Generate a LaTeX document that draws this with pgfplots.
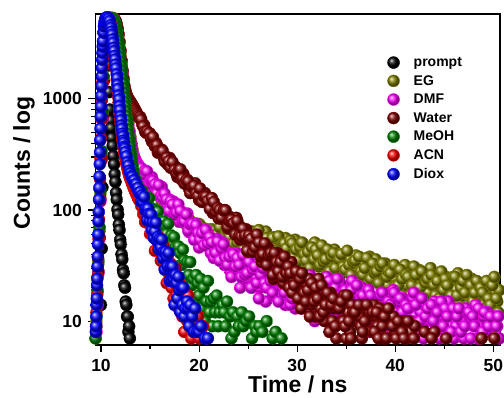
\documentclass[border=0pt]{standalone}
\usepackage{pgfplots}
\pgfplotsset{compat=1.18}
\usepackage{fontspec}
\setmainfont{Liberation Sans}
\usetikzlibrary{plotmarks}
\definecolor{cEG}{RGB}{128,128,0}
\definecolor{cDMF}{RGB}{255,0,255}
\definecolor{cWater}{RGB}{128,0,0}
\definecolor{cMeOH}{RGB}{0,128,0}
\definecolor{cACN}{RGB}{255,0,0}
\definecolor{cDiox}{RGB}{0,0,255}
\pgfplotsset{ballstyle/.style={only marks, mark=ball, mark size=6pt, color=#1, mark options={ball color=#1}}}
\newcommand{\tl}{\fontsize{17.5}{19}\selectfont\bfseries}
\begin{document}
\begin{tikzpicture}
\useasboundingbox (-95.5pt,-52pt) rectangle (408.5pt,345pt);
\begin{axis}[
  at={(0pt,0pt)}, anchor=south west,
  width=404.5pt, height=331pt, scale only axis,
  xmin=9.44, xmax=50.68, ymode=log, ymin=6.1, ymax=5800,
  xtick={10,20,30,40,50}, minor x tick num=1,
  ytick={10,100,1000},
  xticklabels={}, yticklabels={},
  tick align=outside, tick pos=left,
  major tick length=7pt, minor tick length=4pt,
  every tick/.style={black, line width=1.1pt},
  axis line style={line width=1.3pt},
  xlabel={Time / ns}, ylabel={Counts / log},
  label style={font=\fontsize{23}{26}\selectfont\bfseries},
  xlabel style={at={(axis description cs:0.5,0)}, anchor=base, yshift=-48pt, inner sep=0pt, text height=16.5pt, text depth=4pt},
  ylabel style={at={(axis description cs:-0.177,0.55)}, anchor=center},
  legend style={draw=none, fill=none, at={(rel axis cs:0.7136,0.882)}, anchor=north west,
    font=\fontsize{14}{14}\selectfont\bfseries, row sep=3.4pt},
  legend cell align=left,
]
\coordinate (xa) at (axis cs:10,6.1);
\coordinate (xb) at (axis cs:20,6.1);
\coordinate (xc) at (axis cs:30,6.1);
\coordinate (xd) at (axis cs:40,6.1);
\coordinate (xe) at (axis cs:50,6.1);
\coordinate (ya) at (axis cs:9.44,10);
\coordinate (yb) at (axis cs:9.44,100);
\coordinate (yc) at (axis cs:9.44,1000);
% prompt
\addplot[ballstyle=black] coordinates {(10.00,14)(10.07,45)(10.14,160)(10.21,480)(10.28,1150)(10.35,2100)(10.42,3100)(10.49,3900)(10.56,4300)(10.63,4100)(10.70,3200)(10.77,2000)(10.84,1150)(10.91,800)(10.98,640)(11.05,545)(11.12,445)(11.19,378)(11.26,305)(11.33,258)(11.40,210)(11.47,179)(11.54,143)(11.61,124)(11.68,101)(11.75,91)(11.82,74)(11.89,66)(11.96,54)(12.03,49)(12.10,40)(12.17,36)(12.24,29)(12.31,27)(12.38,21)(12.45,20)(12.52,15)(12.59,14)(12.66,11)(12.73,11)(12.80,8)(12.87,9)(12.94,7)(13.01,6)(13.08,6)(13.15,5)};
% EG
\addplot[ballstyle=cEG] coordinates {(9.45,7)(9.55,10)(9.65,18)(9.75,33)(9.85,65)(9.95,140)(10.05,320)(10.15,740)(10.25,1550)(10.35,2650)(10.45,3650)(10.55,4450)(10.65,4950)(10.75,5200)(10.85,5300)(10.95,5350)(11.05,5370)(11.15,5360)(11.25,5330)
(11.4,5100)(11.5,4800)(11.6,4380)(11.7,3900)(11.8,3380)(11.9,2900)(12.0,2450)(12.1,2050)(12.2,1720)(12.3,1450)(12.4,1200)(12.5,1000)(12.6,850)(12.7,720)(12.8,610)(12.9,520)(13.0,455)(13.1,400)(13.2,355)(13.3,320)(13.4,300)(13.5,282)(13.6,265)(13.7,251)(13.8,238)(13.9,231)
(14.0,231)(14.2,213)(14.4,216)(14.6,186)(14.8,181)(15.0,178)(15.2,158)(15.4,164)(15.6,146)(15.8,150)(16.0,135)(16.2,118)(16.4,126)(16.6,116)(16.8,119)(17.0,104)(17.2,105)(17.4,93)(17.6,101)(17.8,92)(18.0,97)(18.2,82)(18.4,81)(18.6,83)(18.8,71)(19.0,82)(19.2,72)(19.4,75)(19.6,65)(19.8,69)(20.0,75)(20.2,62)(20.4,64)(20.6,68)(20.8,58)(21.0,61)(21.2,67)(21.4,58)(21.6,63)(21.8,55)
(22.0,54)(22.2,61)(22.4,47)(22.6,68)(22.8,63)(23.0,55)(23.2,68)(23.4,50)(23.6,63)(23.8,46)(24.0,57)(24.2,71)(24.4,51)(24.6,58)(24.8,47)(25.0,60)(25.2,53)(25.4,64)(25.6,47)(25.8,54)(26.0,42)(26.2,59)(26.4,56)(26.6,48)(26.8,64)(27.0,41)(27.2,54)(27.4,45)(27.6,57)(27.8,48)(28.0,35)(28.2,54)(28.4,49)(28.6,41)(28.8,56)(29.0,48)(29.2,37)(29.4,50)(29.6,42)(29.8,54)
(30.0,32)(30.2,45)(30.4,36)(30.6,50)(30.8,39)(31.0,31)(31.2,46)(31.4,38)(31.6,34)(31.8,51)(32.0,40)(32.2,31)(32.4,43)(32.6,35)(32.8,45)(33.0,26)(33.2,39)(33.4,33)(33.6,30)(33.8,44)(34.0,34)(34.2,40)(34.4,26)(34.6,35)(34.8,29)(35.0,39)(35.2,31)(35.4,36)(35.6,21)(35.8,31)(36.0,39)(36.2,27)(36.4,36)(36.6,23)(36.8,32)(37.0,27)(37.2,23)(37.4,38)(37.6,28)(37.8,32)
(38.0,36)(38.2,26)(38.4,31)(38.6,20)(38.8,28)(39.0,33)(39.2,21)(39.4,27)(39.6,29)(39.8,15)(40.0,24)(40.2,30)(40.4,20)(40.6,26)(40.8,17)(41.0,32)(41.2,21)(41.4,26)(41.6,27)(41.8,15)(42.0,23)(42.2,18)(42.4,29)(42.6,21)(42.8,25)(43.0,16)(43.2,23)(43.4,18)(43.6,30)(43.8,21)(44.0,14)(44.2,24)(44.4,16)(44.6,26)(44.8,18)(45.0,22)(45.2,25)(45.4,12)(45.6,20)(45.8,16)
(46.0,23)(46.2,19)(46.4,27)(46.6,14)(46.8,17)(47.0,21)(47.2,13)(47.4,23)(47.6,15)(47.8,24)(48.0,18)(48.2,10)(48.4,21)(48.6,17)(48.8,22)(49.0,14)(49.2,18)(49.4,12)(49.6,21)(49.8,16)(50.0,23)(50.2,13)(50.4,15)(50.6,19)
(14.1,228)(14.3,205)(14.5,189)(14.7,191)(14.9,186)(15.1,169)(15.3,173)(15.5,148)(15.7,149)(15.9,134)(16.1,132)(16.3,132)(16.5,112)(16.7,119)(16.9,111)(17.1,100)(17.3,109)(17.5,96)(17.7,91)(17.9,95)(18.1,97)(18.3,84)(18.5,78)(18.7,82)(18.9,80)(19.1,67)(19.3,73)(19.5,75)(19.7,67)(19.9,65)(20.1,73)(20.3,61)(20.5,66)(20.7,67)(20.9,63)(21.1,57)(21.3,67)(21.5,65)(21.7,58)(21.9,61)
(22.1,70)(22.3,55)(22.5,49)(22.7,61)(22.9,66)(23.1,57)(23.3,71)(23.5,50)(23.7,61)(23.9,51)(24.1,56)(24.3,64)(24.5,44)(24.7,60)(24.9,56)(25.1,45)(25.3,64)(25.5,51)(25.7,47)(25.9,59)(26.1,66)(26.3,50)(26.5,44)(26.7,54)(26.9,56)(27.1,37)(27.3,50)(27.5,56)(27.7,45)(27.9,43)(28.1,58)(28.3,38)(28.5,49)(28.7,50)(28.9,45)(29.1,35)(29.3,53)(29.5,50)(29.7,38)(29.9,44)
(30.1,35)(30.3,46)(30.5,51)(30.7,40)(30.9,35)(31.1,42)(31.3,30)(31.5,46)(31.7,36)(31.9,44)(32.1,39)(32.3,32)(32.5,48)(32.7,34)(32.9,36)(33.1,44)(33.3,28)(33.5,38)(33.7,41)(33.9,30)(34.1,24)(34.3,36)(34.5,40)(34.7,31)(34.9,29)(35.1,43)(35.3,32)(35.5,26)(35.7,34)(35.9,35)(36.1,22)(36.3,38)(36.5,28)(36.7,26)(36.9,30)(37.1,37)(37.3,22)(37.5,24)(37.7,33)(37.9,27)
(38.1,28)(38.3,22)(38.5,31)(38.7,33)(38.9,18)(39.1,25)(39.3,28)(39.5,27)(39.7,18)(39.9,32)(40.1,21)(40.3,21)(40.5,29)(40.7,24)(40.9,15)(41.1,26)(41.3,25)(41.5,17)(41.7,21)(41.9,31)(42.1,26)(42.3,18)(42.5,20)(42.7,28)(42.9,16)(43.1,22)(43.3,24)(43.5,14)(43.7,26)(43.9,21)(44.1,17)(44.3,23)(44.5,16)(44.7,28)(44.9,19)(45.1,24)(45.3,21)(45.5,14)(45.7,17)(45.9,25)
(46.1,25)(46.3,17)(46.5,13)(46.7,20)(46.9,23)(47.1,18)(47.3,26)(47.5,14)(47.7,21)(47.9,15)(48.1,18)(48.3,23)(48.5,11)(48.7,20)(48.9,18)(49.1,13)(49.3,23)(49.5,16)(49.7,14)(49.9,21)(50.1,25)(50.3,16)(50.5,12)};
% DMF
\addplot[ballstyle=cDMF] coordinates {(9.45,5)(9.55,8)(9.65,14)(9.75,27)(9.85,55)(9.95,120)(10.05,280)(10.15,660)(10.25,1420)(10.35,2500)(10.45,3500)(10.55,4300)(10.65,4850)(10.75,5150)(10.85,5280)(10.95,5320)(11.05,5320)(11.15,5300)(11.25,5250)
(11.4,4980)(11.5,4700)(11.6,4200)(11.7,3700)(11.8,3170)(11.9,2700)(12.0,2300)(12.1,1950)(12.2,1640)(12.3,1380)(12.4,1150)(12.5,960)(12.6,810)(12.7,680)(12.8,580)(12.9,500)(13.0,435)(13.1,380)(13.2,340)(13.3,310)(13.4,295)(13.5,282)(13.6,270)(13.7,262)(13.8,254)(13.9,247)
(14.0,228)(14.2,231)(14.4,193)(14.6,224)(14.8,206)(15.0,183)(15.2,197)(15.4,158)(15.6,171)(15.8,136)(16.0,145)(16.2,161)(16.4,124)(16.6,129)(16.8,108)(17.0,124)(17.2,108)(17.4,119)(17.6,91)(17.8,98)(18.0,78)(18.2,97)(18.4,90)(18.6,77)(18.8,93)(19.0,63)(19.2,75)(19.4,63)(19.6,76)(19.8,62)(20.0,46)(20.2,66)(20.4,59)(20.6,49)(20.8,64)(21.0,54)(21.2,41)(21.4,54)(21.6,44)(21.8,55)
(22.0,48)(22.2,41)(22.4,51)(22.6,32)(22.8,35)(23.0,40)(23.2,28)(23.4,41)(23.6,30)(23.8,41)(24.0,32)(24.2,20)(24.4,34)(24.6,28)(24.8,35)(25.0,24)(25.2,29)(25.4,20)(25.6,31)(25.8,25)(26.0,33)(26.2,20)(26.4,22)(26.6,26)(26.8,15)(27.0,30)(27.2,21)(27.4,26)(27.6,17)(27.8,23)(28.0,31)(28.2,17)(28.4,20)(28.6,25)(28.8,14)(29.0,19)(29.2,26)(29.4,16)(29.6,21)(29.8,13)
(30.0,26)(30.2,18)(30.4,23)(30.6,14)(30.8,20)(31.0,25)(31.2,15)(31.4,20)(31.6,22)(31.8,10)(32.0,17)(32.2,23)(32.4,15)(32.6,19)(32.8,12)(33.0,25)(33.2,15)(33.4,19)(33.6,21)(33.8,10)(34.0,17)(34.2,13)(34.4,22)(34.6,15)(34.8,19)(35.0,11)(35.2,17)(35.4,13)(35.6,23)(35.8,15)(36.0,10)(36.2,18)(36.4,11)(36.6,20)(36.8,13)(37.0,16)(37.2,18)(37.4,8)(37.6,14)(37.8,11)
(38.0,8)(38.2,15)(38.4,10)(38.6,18)(38.8,12)(39.0,8)(39.2,16)(39.4,12)(39.6,9)(39.8,19)(40.0,12)(40.2,8)(40.4,15)(40.6,10)(40.8,16)(41.0,6)(41.2,13)(41.4,9)(41.6,8)(41.8,16)(42.0,11)(42.2,14)(42.4,6)(42.6,12)(42.8,8)(43.0,14)(43.2,10)(43.4,12)(43.8,10)(44.0,15)(44.2,8)(44.4,13)(44.6,6)(44.8,11)(45.0,8)(45.2,6)(45.4,15)(45.6,9)(45.8,12)
(46.0,7)(46.2,9)(46.6,12)(46.8,10)(47.0,7)(47.2,13)(47.4,6)(47.6,11)(47.8,5)(48.0,9)(48.2,14)(48.4,7)(48.6,9)(48.8,5)(49.0,11)(49.2,8)(49.4,12)(49.6,6)(49.8,9)(50.2,11)(50.4,9)(50.6,7)
(14.1,238)(14.3,210)(14.5,226)(14.7,222)(14.9,174)(15.1,184)(15.3,183)(15.5,170)(15.7,141)(15.9,167)(16.1,133)(16.3,129)(16.5,140)(16.7,124)(16.9,98)(17.1,120)(17.3,112)(17.5,91)(17.7,95)(17.9,112)(18.1,98)(18.3,78)(18.5,79)(18.7,91)(18.9,65)(19.1,74)(19.3,75)(19.5,54)(19.7,73)(19.9,62)(20.1,54)(20.3,62)(20.5,48)(20.7,66)(20.9,50)(21.1,57)(21.3,51)(21.5,37)(21.7,41)(21.9,52)
(22.1,35)(22.3,45)(22.5,49)(22.7,37)(22.9,32)(23.1,38)(23.3,25)(23.5,40)(23.7,31)(23.9,37)(24.1,32)(24.3,25)(24.5,39)(24.7,26)(24.9,27)(25.1,34)(25.3,20)(25.5,29)(25.7,31)(25.9,22)(26.1,16)(26.3,26)(26.5,30)(26.7,22)(26.9,20)(27.1,32)(27.3,23)(27.5,18)(27.7,25)(27.9,26)(28.1,15)(28.3,28)(28.5,20)(28.7,18)(28.9,21)(29.1,27)(29.3,14)(29.5,16)(29.7,24)(29.9,19)
(30.1,25)(30.3,17)(30.5,13)(30.7,20)(30.9,23)(31.1,18)(31.3,26)(31.5,14)(31.7,20)(31.9,15)(32.1,18)(32.3,22)(32.5,11)(32.7,20)(32.9,18)(33.1,12)(33.3,23)(33.5,15)(33.7,13)(33.9,20)(34.1,24)(34.3,15)(34.5,12)(34.7,18)(34.9,19)(35.1,9)(35.3,16)(35.5,19)(35.7,13)(35.9,12)(36.1,21)(36.3,10)(36.5,16)(36.7,17)(36.9,14)(37.1,9)(37.3,19)(37.5,17)(37.7,11)(37.9,14)
(38.1,14)(38.3,10)(38.5,17)(38.7,18)(38.9,8)(39.1,13)(39.3,15)(39.5,14)(39.7,8)(39.9,18)(40.1,10)(40.3,10)(40.5,16)(40.7,12)(40.9,6)(41.1,14)(41.3,13)(41.5,8)(41.7,10)(41.9,18)(42.1,14)(42.3,8)(42.5,10)(42.7,16)(42.9,7)(43.1,11)(43.3,13)(43.5,5)(43.7,14)(43.9,10)(44.1,8)(44.3,12)(44.5,7)(44.7,15)(44.9,9)(45.1,13)(45.3,11)(45.5,5)(45.7,8)(45.9,13)
(46.1,6)(46.3,11)(46.5,13)(46.7,8)(46.9,6)(47.1,9)(47.5,12)(47.7,7)(47.9,11)(48.1,9)(48.3,5)(48.5,13)(48.7,7)(48.9,8)(49.1,12)(49.5,9)(49.7,11)(49.9,6)(50.3,9)(50.5,11)};
% Water
\addplot[ballstyle=cWater] coordinates {(9.45,6)(9.55,9)(9.65,15)(9.75,28)(9.85,57)(9.95,125)(10.05,290)(10.15,680)(10.25,1450)(10.35,2550)(10.45,3550)(10.55,4350)(10.65,4850)(10.75,5100)(10.85,5220)(10.95,5280)(11.05,5300)(11.15,5290)(11.25,5270)
(11.3,5250)(11.4,5200)(11.5,5000)(11.6,4700)(11.7,4300)(11.8,3800)(11.9,3250)(12.0,2700)(12.1,2200)(12.2,1800)(12.3,1520)(12.4,1300)(12.5,1180)(12.6,1100)(12.7,1040)(12.8,1000)(12.9,970)(13.0,940)(13.1,910)(13.2,880)(13.3,850)(13.4,820)(13.5,790)(13.6,760)(13.7,730)(13.8,700)(13.9,672)
(14.0,686)(14.2,593)(14.4,581)(14.6,495)(14.8,496)(15.0,487)(15.2,413)(15.4,412)(15.6,402)(15.8,328)(16.0,343)(16.2,349)(16.4,298)(16.6,303)(16.8,257)(17.0,294)(17.2,247)(17.4,250)(17.6,245)(17.8,198)(18.0,213)(18.2,188)(18.4,211)(18.6,181)(18.8,187)(19.0,154)(19.2,166)(19.4,149)(19.6,174)(19.8,145)(20.0,123)(20.2,144)(20.4,120)(20.6,142)(20.8,118)(21.0,125)(21.2,128)(21.4,94)(21.6,108)(21.8,96)
(22.0,84)(22.2,99)(22.4,83)(22.6,100)(22.8,81)(23.0,68)(23.2,86)(23.4,73)(23.6,64)(23.8,85)(24.0,67)(24.2,54)(24.4,67)(24.6,55)(24.8,67)(25.0,42)(25.2,56)(25.4,47)(25.6,42)(25.8,58)(26.0,45)(26.2,50)(26.4,34)(26.6,43)(26.8,35)(27.0,46)(27.2,36)(27.4,40)(27.6,24)(27.8,34)(28.0,41)(28.2,28)(28.4,36)(28.6,22)(28.8,31)(29.0,24)(29.2,20)(29.4,34)(29.6,24)(29.8,27)
(30.0,18)(30.2,21)(30.4,13)(30.6,25)(30.8,22)(31.0,17)(31.2,24)(31.4,14)(31.6,20)(31.8,11)(32.0,16)(32.2,24)(32.4,13)(32.6,16)(32.8,10)(33.0,17)(33.2,13)(33.4,18)(33.6,10)(33.8,13)(34.0,7)(34.2,15)(34.4,14)(34.6,10)(34.8,17)(35.0,7)(35.2,12)(35.4,8)(35.6,14)(35.8,10)(36.2,13)(36.4,11)(36.6,7)(36.8,14)(37.0,10)(37.2,6)(37.4,12)(37.6,8)(37.8,14)
(38.0,11)(38.2,9)(38.4,13)(38.6,5)(38.8,7)(39.0,10)(39.4,11)(39.6,6)(39.8,11)(40.0,8)(40.4,9)(40.6,6)(40.8,10)(41.2,7)(41.6,8)(41.8,5)(42.0,9)(42.6,6)(43.0,8)(43.4,6)(44.0,8)(44.6,6)(45.2,7)(46.4,6)(47.6,5)(48.8,7)(49.6,6)(50.4,6)
(14.1,652)(14.3,566)(14.5,508)(14.7,511)(14.9,491)(15.1,438)(15.3,453)(15.5,375)(15.7,384)(15.9,339)(16.1,336)(16.3,338)(16.5,274)(16.7,296)(16.9,275)(17.1,240)(17.3,269)(17.5,229)(17.7,212)(17.9,227)(18.1,232)(18.3,192)(18.5,173)(18.7,185)(18.9,181)(19.1,142)(19.3,160)(19.5,165)(19.7,141)(19.9,134)(20.1,156)(20.3,118)(20.5,132)(20.7,132)(20.9,121)(21.1,102)(21.3,128)(21.5,118)(21.7,96)(21.9,104)
(22.1,100)(22.3,85)(22.5,99)(22.7,99)(22.9,70)(23.1,79)(23.3,82)(23.5,76)(23.7,60)(23.9,80)(24.1,59)(24.3,58)(24.5,68)(24.7,59)(24.9,43)(25.1,59)(25.3,55)(25.5,42)(25.7,46)(25.9,60)(26.1,51)(26.3,38)(26.5,40)(26.7,50)(26.9,32)(27.1,39)(27.3,41)(27.5,26)(27.7,41)(27.9,34)(28.1,28)(28.3,34)(28.5,25)(28.7,38)(28.9,27)(29.1,31)(29.3,27)(29.5,18)(29.7,21)(29.9,28)
(30.1,16)(30.3,24)(30.5,27)(30.7,18)(30.9,15)(31.1,19)(31.3,11)(31.5,22)(31.7,15)(31.9,20)(32.1,16)(32.3,11)(32.5,21)(32.7,12)(32.9,14)(33.1,18)(33.3,8)(33.5,14)(33.7,16)(33.9,9)(34.3,13)(34.5,15)(34.7,10)(34.9,9)(35.1,17)(35.3,10)(35.5,7)(35.7,12)(35.9,12)(36.3,14)(36.5,9)(36.7,8)(36.9,10)(37.1,14)(37.5,6)(37.7,12)(37.9,8)
(38.1,12)(38.3,7)(38.7,9)(38.9,11)(39.1,7)(39.3,13)(39.7,9)(40.1,7)(40.3,10)(40.7,8)(40.9,7)(41.3,10)(41.9,7)(42.3,6)(43.7,7)(45.9,6)(47.1,6)(50.1,7)};
% MeOH
\addplot[ballstyle=cMeOH] coordinates {(9.45,7)(9.55,11)(9.65,19)(9.75,35)(9.85,70)(9.95,150)(10.05,340)(10.15,780)(10.25,1600)(10.35,2700)(10.45,3700)(10.55,4450)(10.65,4950)(10.75,5200)(10.85,5300)(10.95,5330)(11.05,5320)(11.15,5300)(11.25,5250)
(11.30,5200)(11.35,5060)(11.40,4900)(11.45,4750)(11.50,4600)(11.55,4330)(11.60,4070)(11.65,3830)(11.70,3600)(11.75,3320)(11.80,3060)(11.85,2820)(11.90,2600)(11.95,2370)(12.00,2160)(12.05,1970)(12.10,1800)(12.15,1640)(12.20,1500)(12.25,1370)(12.30,1250)(12.35,1130)(12.40,1030)(12.45,935)(12.50,850)(12.55,770)(12.60,700)(12.65,640)(12.70,580)(12.75,530)(12.80,480)(12.85,440)(12.90,400)(12.95,370)(13.00,340)(13.05,315)(13.10,290)(13.15,270)(13.20,252)(13.25,236)(13.30,220)(13.40,203)(13.50,188)(13.60,175)(13.70,165)(13.80,156)(13.90,148)
(14.00,134)(14.15,149)(14.30,117)(14.45,130)(14.60,102)(14.75,112)(14.90,128)(15.05,98)(15.20,103)(15.35,85)(15.50,99)(15.65,86)(15.80,97)(15.95,73)(16.10,79)(16.25,61)(16.40,79)(16.55,72)(16.70,61)(16.85,75)(17.00,48)(17.15,59)(17.30,47)(17.45,57)(17.60,46)(17.75,31)(17.90,47)(18.05,41)(18.20,32)(18.35,44)(18.50,35)(18.65,24)(18.80,34)(18.95,26)(19.10,34)(19.25,21)(19.40,24)(19.55,14)(19.70,26)(19.85,22)(20.00,17)(20.15,24)(20.30,13)(20.45,20)(20.60,10)(20.75,15)(20.90,23)(21.05,12)(21.20,15)(21.35,9)(21.50,16)(21.65,12)(21.80,17)(21.95,9)(22.10,12)(22.25,6)(22.40,14)(22.55,12)(22.70,9)(22.85,15)(23.00,5)(23.15,11)(23.30,7)(23.45,12)(23.60,8)(23.90,11)(24.05,9)(24.20,6)(24.35,12)(24.50,9)(24.80,10)(24.95,6)(25.10,11)(25.25,5)(25.40,7)(25.70,9)(25.85,8)(26.00,5)(26.15,9)(26.45,8)(26.75,6)(26.90,10)(27.20,6)(27.50,7)(27.65,5)(27.80,8)(28.10,5)(28.40,7)};
% ACN
\addplot[ballstyle=cACN] coordinates {(9.45,6)(9.50,8)(9.55,12)(9.60,17)(9.65,25)(9.70,37)(9.75,55)(9.80,82)(9.85,125)(9.90,190)(9.95,290)(10.00,440)(10.05,660)(10.10,980)(10.15,1400)(10.20,1950)(10.25,2600)(10.30,3250)(10.40,4300)(10.50,4950)(10.60,5250)(10.70,5350)(10.80,5350)(10.90,5150)
(11.0,4700)(11.1,4050)(11.2,3400)(11.3,2800)(11.4,2300)(11.5,1850)(11.6,1480)(11.65,1320)(11.7,1170)(11.75,1045)(11.8,930)(11.85,830)(11.9,740)(11.95,667)(12.0,600)(12.05,548)(12.1,500)(12.15,461)(12.2,425)(12.25,394)(12.3,365)(12.35,342)(12.4,320)(12.45,302)(12.5,285)(12.55,271)(12.6,258)(12.65,246)(12.7,235)(12.75,226)(12.8,217)(12.85,209)(12.9,202)(12.95,196)(13.0,190)(13.1,180)(13.2,170)(13.3,161)(13.4,153)(13.5,146)(13.6,139)(13.7,133)(13.8,127)(13.9,122)
(14.0,126)(14.1,109)(14.2,121)(14.3,92)(14.4,98)(14.5,78)(14.6,97)(14.7,89)(14.8,76)(14.9,92)(15.0,61)(15.1,73)(15.2,60)(15.3,72)(15.4,59)(15.5,43)(15.6,61)(15.7,54)(15.8,44)(15.9,57)(16.0,47)(16.1,35)(16.2,46)(16.3,37)(16.4,47)(16.5,30)(16.6,34)(16.7,22)(16.8,36)(16.9,32)(17.0,25)(17.1,33)(17.2,20)(17.3,27)(17.4,16)(17.5,22)(17.6,30)(17.7,17)(17.8,20)(17.9,13)(18.0,20)(18.1,16)(18.2,21)(18.3,11)(18.4,15)(18.5,8)(18.6,16)(18.7,14)(18.8,10)(18.9,17)(19.0,6)(19.1,12)(19.2,7)(19.3,13)(19.4,8)(19.6,10)(19.7,8)(19.8,5)(19.9,11)(20.0,7)(20.2,8)(20.3,5)(20.4,9)(20.6,5)(20.8,7)(20.9,5)(21.1,6)};
% Diox
\addplot[ballstyle=cDiox] coordinates {(9.450,6)(9.475,8)(9.500,9)(9.525,11)(9.550,14)(9.575,16)(9.600,21)(9.625,24)(9.650,31)(9.675,38)(9.700,49)(9.725,60)(9.750,79)(9.775,96)(9.800,124)(9.825,158)(9.850,200)(9.875,258)(9.900,330)(9.925,425)(9.950,540)(9.975,690)(10.000,850)(10.025,1060)(10.050,1300)(10.075,1590)(10.100,1900)(10.125,2250)(10.150,2600)(10.175,2950)(10.200,3300)(10.250,3950)(10.300,4500)(10.350,4850)(10.400,5100)(10.450,5250)(10.500,5350)(10.600,5420)(10.700,5400)(10.800,5250)(10.900,5000)
(11.00,4600)(11.05,4360)(11.10,4020)(11.15,3770)(11.20,3420)(11.25,3190)(11.30,2880)(11.35,2690)(11.40,2430)(11.45,2260)(11.50,2030)(11.55,1880)(11.60,1660)(11.65,1530)(11.70,1340)(11.75,1225)(11.80,1070)(11.85,985)(11.90,860)(11.95,790)(12.00,695)(12.05,642)(12.10,575)(12.15,538)(12.20,486)(12.25,460)(12.30,421)(12.35,402)(12.40,371)(12.45,358)(12.50,331)(12.60,304)(12.70,268)(12.80,251)(12.90,225)(13.00,214)(13.10,201)(13.20,199)(13.30,184)(13.40,185)(13.50,170)(13.60,171)(13.70,156)(13.80,158)(13.90,143)
(14.0,145)(14.1,119)(14.2,136)(14.3,117)(14.4,131)(14.5,100)(14.6,104)(14.7,81)(14.8,103)(14.9,92)(15.0,79)(15.1,91)(15.2,66)(15.3,77)(15.4,56)(15.5,64)(15.6,77)(15.7,53)(15.8,57)(15.9,44)(16.0,55)(16.1,46)(16.2,54)(16.3,37)(16.4,42)(16.5,29)(16.6,42)(16.7,38)(16.8,31)(16.9,41)(17.0,23)(17.1,31)(17.2,23)(17.3,31)(17.4,24)(17.5,14)(17.6,26)(17.7,22)(17.8,16)(17.9,25)(18.0,19)(18.1,12)(18.2,20)(18.3,14)(18.4,20)(18.5,11)(18.6,13)(18.7,6)(18.8,15)(18.9,13)(19.0,9)(19.1,14)(19.2,6)(19.3,11)(19.5,8)(19.6,13)(19.7,6)(19.8,8)(20.0,8)(20.1,5)(20.2,9)(20.4,5)(20.6,7)(20.7,6)(20.9,7)(21.3,5)};
\legend{\hspace*{12pt}prompt,\hspace*{12pt}EG,\hspace*{12pt}DMF,\hspace*{12pt}Water,\hspace*{12pt}MeOH,\hspace*{12pt}ACN,\hspace*{12pt}Diox}
\end{axis}
\node[anchor=north, inner sep=0pt, font=\tl] at ([yshift=-14pt]xa) {10};
\node[anchor=north, inner sep=0pt, font=\tl] at ([yshift=-14pt]xb) {20};
\node[anchor=north, inner sep=0pt, font=\tl] at ([yshift=-14pt]xc) {30};
\node[anchor=north, inner sep=0pt, font=\tl] at ([yshift=-14pt]xd) {40};
\node[anchor=north, inner sep=0pt, font=\tl] at ([yshift=-14pt]xe) {50};
\node[anchor=east, inner sep=0pt, font=\tl] at ([xshift=-13.5pt]ya) {10};
\node[anchor=east, inner sep=0pt, font=\tl] at ([xshift=-13.5pt]yb) {100};
\node[anchor=east, inner sep=0pt, font=\tl] at ([xshift=-13.5pt]yc) {1000};
\end{tikzpicture}
\end{document}
